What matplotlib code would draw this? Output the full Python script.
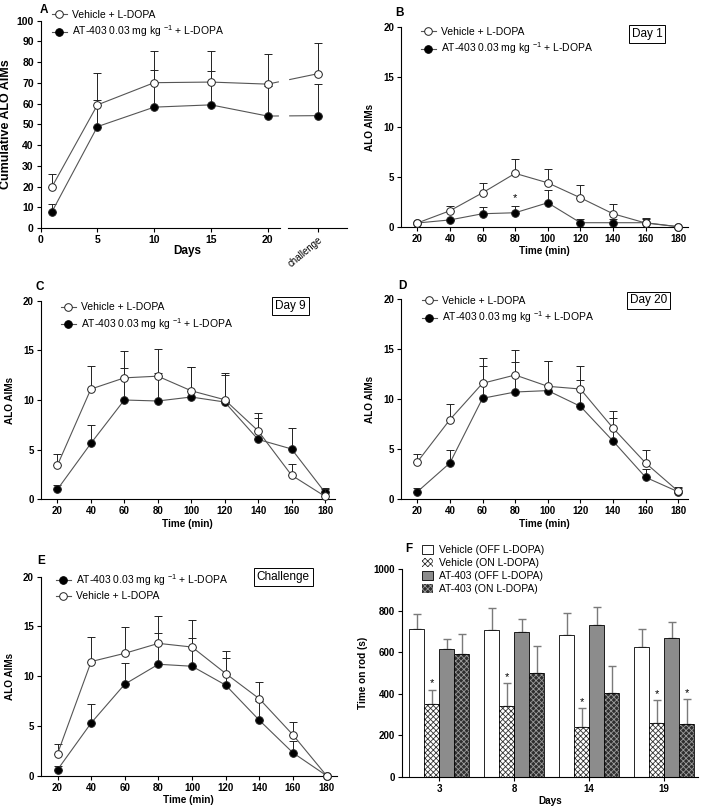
import matplotlib.pyplot as plt
from matplotlib.lines import Line2D
from matplotlib.patches import Patch
import numpy as np

plt.rcParams['font.family'] = ['Liberation Sans', 'DejaVu Sans']
plt.rcParams['mathtext.fontset'] = 'custom'
plt.rcParams['mathtext.rm'] = 'Liberation Sans'
plt.rcParams['hatch.linewidth'] = 0.6

# ---- data ----
a_days = [1, 5, 10, 15, 20]
a_challenge = 24.4
a_veh = [19.9, 59.4, 70.1, 70.4, 69.4, 74.4]
a_veh_err = [6.3, 15.5, 15.5, 15.0, 14.7, 14.8]
a_at = [7.9, 48.9, 58.3, 59.4, 54.0, 54.2]
a_at_err = [3.8, 12.8, 18.1, 16.2, 14.5, 15.4]

time_min = [20, 40, 60, 80, 100, 120, 140, 160, 180]

b_veh = [0.37, 1.6, 3.4, 5.35, 4.4, 2.9, 1.3, 0.37, 0.0]
b_veh_err = [0.0, 0.5, 1.0, 1.45, 1.4, 1.3, 1.0, 0.5, 0.0]
b_at = [0.37, 0.68, 1.3, 1.4, 2.4, 0.4, 0.4, 0.4, 0.0]
b_at_err = [0.0, 0.0, 0.7, 0.7, 1.25, 0.4, 0.4, 0.4, 0.0]

c_veh = [3.43, 11.1, 12.23, 12.4, 10.93, 10.03, 6.9, 2.43, 0.3]
c_veh_err = [1.14, 2.37, 2.67, 2.73, 2.44, 2.7, 1.8, 1.14, 0.7]
c_at = [1.0, 5.63, 10.0, 9.9, 10.3, 9.8, 6.03, 5.07, 0.7]
c_at_err = [0.4, 1.9, 3.23, 2.83, 3.07, 2.7, 2.14, 2.1, 0.4]

d_veh = [3.73, 7.97, 11.6, 12.43, 11.3, 11.03, 7.13, 3.63, 0.8]
d_veh_err = [0.84, 1.6, 2.5, 2.5, 2.53, 2.3, 1.67, 1.27, 0.4]
d_at = [0.75, 3.63, 10.1, 10.73, 10.87, 9.3, 5.83, 2.2, 0.75]
d_at_err = [0.4, 1.34, 3.23, 3.04, 2.96, 2.6, 2.3, 0.8, 0.4]

e_at = [0.6, 5.3, 9.2, 11.2, 11.0, 9.1, 5.57, 2.3, 0.0]
e_at_err = [0.35, 1.93, 2.17, 3.1, 2.87, 2.73, 1.9, 1.2, 0.0]
e_veh = [2.2, 11.47, 12.3, 13.3, 12.93, 10.27, 7.73, 4.1, 0.0]
e_veh_err = [0.97, 2.5, 2.6, 2.8, 2.67, 2.23, 1.64, 1.27, 0.0]

f_days = ['3', '8', '14', '19']
veh_off = [712, 709, 682, 625]
veh_off_err = [71, 103, 106, 87]
veh_on = [349, 341, 240, 257]
veh_on_err = [71, 111, 90, 113]
at_off = [616, 699, 732, 667]
at_off_err = [48, 60, 85, 81]
at_on = [592, 500, 404, 254]
at_on_err = [94, 129, 128, 122]
veh_on_star = [True, True, True, True]
at_on_star = [False, False, False, True]

veh_label = 'Vehicle + L-DOPA'
at_label = 'AT-403 0.03 mg kg $^{-1}$ + L-DOPA'

W, H = 709, 810
fig = plt.figure(figsize=(W / 100, H / 100), dpi=100)


def px_axes(x0, x1, ytop, ybot):
    return fig.add_axes([x0 / W, 1 - ybot / H, (x1 - x0) / W, (ybot - ytop) / H])


def style(ax, size=7):
    for s in ['top', 'right']:
        ax.spines[s].set_visible(False)
    for s in ['left', 'bottom']:
        ax.spines[s].set_linewidth(0.8)
    ax.tick_params(direction='out', length=3, width=0.8, labelsize=size, pad=2)
    for lab in ax.get_xticklabels() + ax.get_yticklabels():
        lab.set_fontweight('bold')


def fig_text(x, y, s, **kw):
    fig.text(x / W, 1 - y / H, s, **kw)


def draw_series(ax, x, y, err, filled, z):
    ax.errorbar(x, y, yerr=[np.zeros(len(y)), err], fmt='none', ecolor='#222222',
                elinewidth=0.7, capsize=3, capthick=0.7, zorder=z)
    ax.plot(x, y, color='#555555', lw=0.8, marker='o', ms=5.5,
            mfc='black' if filled else 'white', mec='#222222', mew=0.7,
            zorder=z + 0.5, clip_on=False)


def handles():
    h_veh = Line2D([], [], color='#555555', lw=0.8, marker='o', ms=5.5, mfc='white', mec='#222222', mew=0.7)
    h_at = Line2D([], [], color='#555555', lw=0.8, marker='o', ms=5.5, mfc='black', mec='black', mew=0.7)
    return h_veh, h_at


def add_legend(ax, x, y, hs, labels):
    ax.legend(hs, labels, loc='upper left', bbox_to_anchor=(x / W, 1 - y / H),
              bbox_transform=fig.transFigure, frameon=False, fontsize=7.5,
              handlelength=1.4, handletextpad=0.5, labelspacing=0.35,
              borderpad=0, borderaxespad=0)


def box_text(x, y, s):
    fig_text(x, y, s, ha='center', va='center', fontsize=8.5,
             bbox=dict(boxstyle='square,pad=0.25', fc='white', ec='black', lw=0.7))


# ---- panel A ----
ax = px_axes(40.7, 347, 20.7, 228)
brk0, brk1, xend = 21.1, 21.8, 27.0
ax.set_xlim(0, xend)
ax.set_ylim(0, 100)
for y, err, filled, z in [(a_at, a_at_err, True, 2), (a_veh, a_veh_err, False, 4)]:
    xs = a_days + [a_challenge]
    ax.errorbar(xs, y, yerr=[np.zeros(len(y)), err], fmt='none', ecolor='#222222',
                elinewidth=0.7, capsize=3, capthick=0.7, zorder=z)
    ax.plot(a_days, y[:5], color='#555555', lw=0.8, zorder=z)
    yb0 = np.interp(brk0 - 0.15, [20, a_challenge], [y[4], y[5]])
    yb1 = np.interp(brk1 + 0.15, [20, a_challenge], [y[4], y[5]])
    ax.plot([20, brk0 - 0.15], [y[4], yb0], color='#555555', lw=0.8, zorder=z)
    ax.plot([brk1 + 0.15, a_challenge], [yb1, y[5]], color='#555555', lw=0.8, zorder=z)
    ax.plot(xs, y, ls='none', marker='o', ms=5.5, mfc='black' if filled else 'white',
            mec='#222222', mew=0.7, zorder=z + 0.5, clip_on=False)
ax.spines['bottom'].set_bounds(0, brk0)
ax.plot([brk1, xend], [0, 0], color='black', lw=0.8, clip_on=False, zorder=5)
ax.set_xticks([0, 5, 10, 15, 20, a_challenge])
ax.set_xticklabels(['0', '5', '10', '15', '20', 'challenge'])
ax.set_yticks(range(0, 101, 10))
style(ax, 7.5)
ch = ax.get_xticklabels()[-1]
ch.set_fontweight('normal')
ch.set_rotation(40)
ch.set_ha('right')
ch.set_rotation_mode('anchor')
ch.set_fontsize(7)
ax.set_xlabel('Days', fontsize=8.5, fontweight='bold')
ax.xaxis.set_label_coords(0.48, -0.08)
ax.set_ylabel('Cumulative ALO AIMs', fontsize=9, fontweight='bold')
ax.yaxis.set_label_coords(-0.095, 0.5)
h_veh, h_at = handles()
add_legend(ax, 52, 10, [h_veh, h_at], [veh_label, at_label])
fig_text(40, 10, 'A', fontsize=8.5, fontweight='bold', va='center')

# ---- panels B-E ----
panels = [
    ('B', (401, 688, 27.3, 226.7), b_veh, b_veh_err, b_at, b_at_err, 'Day 1', (647, 33.7), (395, 12.5), (421, 27), False),
    ('C', (40.7, 335, 300.7, 499.3), c_veh, c_veh_err, c_at, c_at_err, 'Day 9', (290.5, 306.3), (35, 287.5), (61, 302.5), False),
    ('D', (401, 688, 299.3, 499.3), d_veh, d_veh_err, d_at, d_at_err, 'Day 20', (648.5, 300.5), (398, 286), (422, 296), False),
    ('E', (40.7, 336.7, 576.7, 775.7), e_veh, e_veh_err, e_at, e_at_err, 'Challenge', (283.3, 577.3), (37, 560.5), (56, 572), True),
]
for letter, r, veh, veh_err, at, at_err, box, bpos, lpos, legpos, at_first in panels:
    ax = px_axes(*r)
    ax.set_xlim(10, 186)
    ax.set_ylim(0, 20)
    draw_series(ax, time_min, at, at_err, True, 2)
    draw_series(ax, time_min, veh, veh_err, False, 4)
    ax.set_xticks(time_min)
    ax.set_yticks([0, 5, 10, 15, 20])
    style(ax)
    ax.set_xlabel('Time (min)', fontsize=7.2, fontweight='bold', labelpad=2)
    ax.set_ylabel('ALO AIMs', fontsize=7.2, fontweight='bold', labelpad=6)
    h_veh, h_at = handles()
    if at_first:
        add_legend(ax, legpos[0], legpos[1], [h_at, h_veh], [at_label, veh_label])
    else:
        add_legend(ax, legpos[0], legpos[1], [h_veh, h_at], [veh_label, at_label])
    box_text(bpos[0], bpos[1], box)
    fig_text(lpos[0], lpos[1], letter, fontsize=8.5, fontweight='bold', va='center')
    if letter == 'B':
        ax.text(80, b_at[3] + b_at_err[3] + 0.25, '*', ha='center', va='bottom', fontsize=8)

# ---- panel F ----
ax = px_axes(401.7, 698, 569.3, 776.7)
xc = np.arange(len(f_days))
bw = 0.2
series = [
    (veh_off, veh_off_err, dict(facecolor='white'), None, [False] * 4),
    (veh_on, veh_on_err, dict(facecolor='white', hatch='xxxxxx'), '#333333', veh_on_star),
    (at_off, at_off_err, dict(facecolor='#8c8c8c'), None, [False] * 4),
    (at_on, at_on_err, dict(facecolor='#2e2e2e', hatch='xxxxxx'), '#9a9a9a', at_on_star),
]
leg_h = []
for i, (vals, errs, kw, hc, stars) in enumerate(series):
    pos = xc + (i - 1.5) * bw
    ax.errorbar(pos, vals, yerr=[np.zeros(4), errs], fmt='none', ecolor='#7a7a7a',
                elinewidth=1.0, capsize=3, capthick=1.0, zorder=1)
    if hc is not None:
        ax.bar(pos, vals, bw, edgecolor=hc, linewidth=0, zorder=2, **kw)
        ax.bar(pos, vals, bw, facecolor='none', edgecolor='black', linewidth=0.6, zorder=3)
        leg_h.append(Patch(edgecolor=hc, linewidth=0, **kw))
    else:
        ax.bar(pos, vals, bw, edgecolor='black', linewidth=0.6, zorder=2, **kw)
        leg_h.append(Patch(edgecolor='black', linewidth=0.6, **kw))
    for p, v, e, s in zip(pos, vals, errs, stars):
        if s:
            ax.text(p, v + e + 5, '*', ha='center', va='bottom', fontsize=8)
ax.set_xlim(-0.5, 3.45)
ax.set_ylim(0, 1000)
ax.set_xticks(xc)
ax.set_xticklabels(f_days)
ax.set_yticks(range(0, 1001, 200))
style(ax)
ax.set_xlabel('Days', fontsize=7.2, fontweight='bold', labelpad=2)
ax.set_ylabel('Time on rod (s)', fontsize=7.2, fontweight='bold', labelpad=4)
ax.legend(leg_h, ['Vehicle (OFF L-DOPA)', 'Vehicle (ON L-DOPA)', 'AT-403 (OFF L-DOPA)', 'AT-403 (ON L-DOPA)'],
          loc='upper left', bbox_to_anchor=(422 / W, 1 - 545 / H), bbox_transform=fig.transFigure,
          frameon=False, fontsize=7.5, handlelength=1.1, handleheight=0.9, handletextpad=0.5,
          labelspacing=0.3, borderpad=0, borderaxespad=0)
fig_text(405, 549, 'F', fontsize=8.5, fontweight='bold', va='center')

fig.savefig('out.png', dpi=100, facecolor='white')
